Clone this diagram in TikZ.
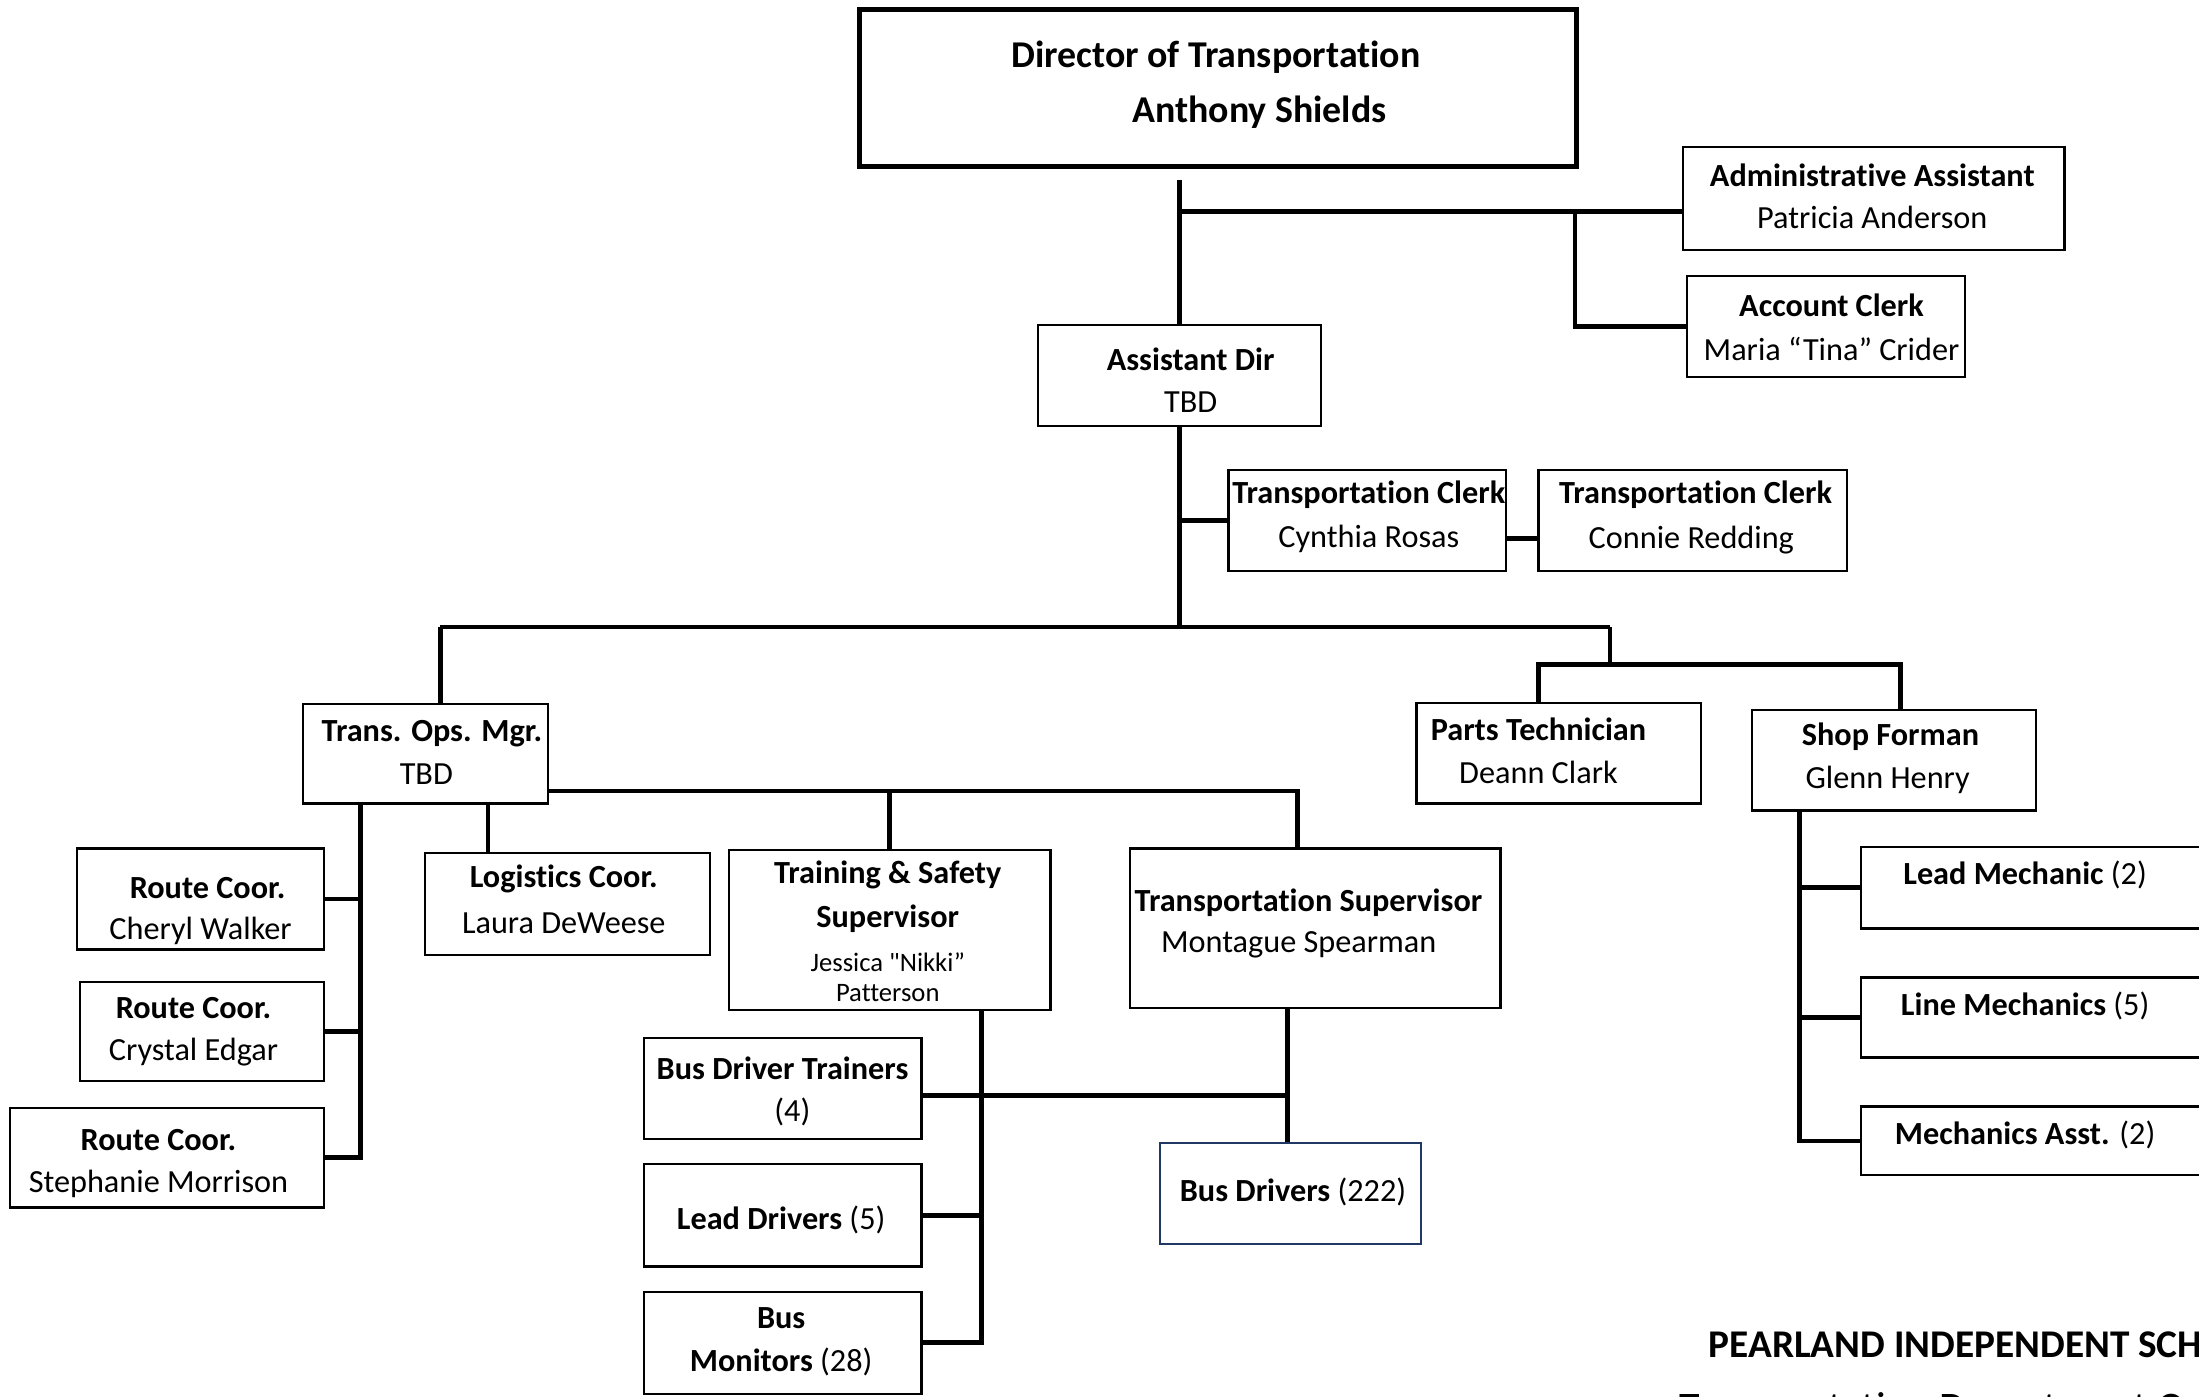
\documentclass[tikz,border=0pt]{standalone}
\usepackage{fontspec}
\setmainfont{Carlito}[Ligatures={TeXOff,NoCommon}]
\usetikzlibrary{fit}
\definecolor{navyline}{RGB}{31,56,100}
\tikzset{
 box/.style={draw, line width=0.8pt, inner sep=0pt},
 conn/.style={line width=1.7pt},
 lbl/.style={inner sep=0pt, font=\bfseries\fontsize{11.5}{14}\selectfont},
 nm/.style={inner sep=0pt, font=\fontsize{11.5}{14}\selectfont},
 sm/.style={inner sep=0pt, font=\fontsize{9.5}{11}\selectfont},
 ttl/.style={inner sep=0pt, font=\bfseries\fontsize{13.5}{16}\selectfont},
}
\newcommand\orgbox[6][]{\node[box,#1,fit={(#3,#4)(#5,#6)}] (#2) {};}
\begin{document}
\begin{tikzpicture}[x=0.5pt,y=-0.5pt]
\useasboundingbox (0,0) rectangle (1568,996);
\clip (0,0) rectangle (1568,996);
\fill[white] (0,0) rectangle (1568,996);

% boxes
\orgbox[line width=1.8pt]{dir}{613}{7}{1124}{119}
\orgbox{admin}{1200}{105}{1472}{178}
\orgbox{acct}{1203}{197}{1401}{269}
\orgbox{asst}{740}{232}{942}{304}
\orgbox{clerkA}{876}{335}{1074}{407}
\orgbox{clerkB}{1097}{335}{1317}{407}
\orgbox{ops}{216}{502}{391}{573}
\orgbox{parts}{1010}{501}{1213}{573}
\orgbox{shop}{1249}{506}{1452}{578}
\orgbox{routeA}{55}{605}{231}{677}
\orgbox{routeB}{57}{700}{231}{771}
\orgbox{routeC}{7}{790}{231}{861}
\orgbox{logis}{303}{608}{506}{681}
\orgbox{train}{520}{606}{749}{720}
\orgbox{tsup}{806}{605}{1070}{719}
\orgbox{bdt}{459}{740}{657}{812}
\orgbox{lead}{459}{830}{657}{903}
\orgbox{mon}{459}{921}{657}{994}
\orgbox[draw=navyline]{drivers}{827}{815}{1013}{887}
\orgbox{leadm}{1327}{604}{1600}{662}
\orgbox{linem}{1327}{697}{1600}{754}
\orgbox{mecha}{1327}{789}{1600}{838}

% junction coordinates
\coordinate (dtop) at (841,128);
\coordinate (jA) at (841,151);
\coordinate (jB) at (1123,151);
\coordinate (busL) at (314,447);
\coordinate (busM) at (841,447);
\coordinate (busR) at (1148,447);
\coordinate (busR2) at (1148,474);
\coordinate (pj) at (1097,474);
\coordinate (sj) at (1355,474);
\coordinate (cy) at (0,384);
\coordinate (rv) at (257,0);
\coordinate (lv) at (348,0);
\coordinate (hy) at (0,564);
\coordinate (tv) at (925,0);
\coordinate (sv) at (700,0);
\coordinate (dv) at (918,0);
\coordinate (mv) at (1283,0);
\coordinate (by) at (0,781);

% connectors
\draw[conn] (dtop) -- (asst.north);
\draw[conn] (jA) -- (jA -| admin.west);
\draw[conn] (jB) |- (acct.west);
\draw[conn] (asst.south) -- (busM);
\draw[conn] (busL) -- (busR);
\draw[conn] (asst.south |- clerkA.west) -- (clerkA.west);
\draw[conn] (clerkA.east |- cy) -- (clerkB.west |- cy);
\draw[conn] (busL) -- (busL |- ops.north);
\draw[conn] (busR) -- (busR2);
\draw[conn] (pj |- parts.north) -- (pj) -- (sj) -- (sj |- shop.north);
\draw[conn] (rv |- ops.south) |- (routeC.east);
\draw[conn] (rv |- routeA.east) -- (routeA.east);
\draw[conn] (rv |- routeB.east) -- (routeB.east);
\draw[conn] (lv |- ops.south) -- (lv |- logis.north);
\draw[conn] (ops.east |- hy) -| (tv |- tsup.north);
\draw[conn] (train.north |- hy) -- (train.north);
\draw[conn] (sv |- train.south) |- (mon.east);
\draw[conn] (sv |- lead.east) -- (lead.east);
\draw[conn] (dv |- tsup.south) -- (dv |- drivers.north);
\draw[conn] (bdt.east |- by) -- (dv |- by);
\draw[conn] (mv |- shop.south) |- (mecha.west);
\draw[conn] (mv |- leadm.west) -- (leadm.west);
\draw[conn] (mv |- linem.west) -- (linem.west);

% texts
\node[ttl] (tdir1) at (867,41) {Director of Transportation};
\node[ttl] (tdir2) at (898,80) {Anthony Shields};
\node[lbl] (tadm1) at (1335,125) {Administrative Assistant};
\node[nm] (tadm2) at (1335,155) {Patricia Anderson};
\node[lbl] (tacc1) at (1306,218) {Account Clerk};
\node[nm] (tacc2) at (1306,249) {Maria “Tina” Crider};
\node[lbl] (tas1) at (849,256) {Assistant Dir};
\node[nm] (tas2) at (849,287) {TBD};
\node[lbl] (tcA1) at (976,353) {Transportation Clerk};
\node[nm] (tcA2) at (976,384) {Cynthia Rosas};
\node[lbl] (tcB1) at (1209,353) {Transportation Clerk};
\node[nm] (tcB2) at (1206,385) {Connie Redding};
\node[lbl] (tops1) at (308,523) {Trans. Ops. Mgr.};
\node[nm] (tops2) at (304,552) {TBD};
\node[lbl] (tpar1) at (1097,520) {Parts Technician};
\node[nm] (tpar2) at (1097,551) {Deann Clark};
\node[lbl] (tsh1) at (1348,525) {Shop Forman};
\node[nm] (tsh2) at (1346,556) {Glenn Henry};
\node[lbl] (trA1) at (148,633) {Route Coor.};
\node[nm] (trA2) at (143,664) {Cheryl Walker};
\node[lbl] (trB1) at (138,719) {Route Coor.};
\node[nm] (trB2) at (138,750) {Crystal Edgar};
\node[lbl] (trC1) at (113,813) {Route Coor.};
\node[nm] (trC2) at (113,844) {Stephanie Morrison};
\node[lbl] (tlog1) at (402,627) {Logistics Coor.};
\node[nm] (tlog2) at (402,658) {Laura DeWeese};
\node[lbl] (ttr1) at (633,624) {Training \& Safety};
\node[lbl] (ttr2) at (633,655) {Supervisor};
\node[sm] (ttr3) at (633,686) {Jessica "Nikki”};
\node[sm] (ttr4) at (633,708) {Patterson};
\node[lbl] (tts1) at (933,644) {Transportation Supervisor};
\node[nm] (tts2) at (926,674) {Montague Spearman};
\node[lbl] (tbdt1) at (558,762) {Bus Driver Trainers};
\node[nm] (tbdt2) at (565,793) {(4)};
\node[lbl] (tld) at (557,870) {Lead Drivers \textmd{(5)}};
\node[lbl] (tmo1) at (557,940) {Bus};
\node[lbl] (tmo2) at (557,971) {Monitors \textmd{(28)}};
\node[lbl] (tdrv) at (922,850) {Bus Drivers \textmd{(222)}};
\node[lbl] (tlm) at (1444,624) {Lead Mechanic \textmd{(2)}};
\node[lbl] (tli) at (1444,717) {Line Mechanics \textmd{(5)}};
\node[lbl] (tma) at (1444,809) {Mechanics Asst. \textmd{(2)}};
\node[inner sep=0pt, anchor=base west, font=\bfseries\fontsize{14}{16}\selectfont] (tpisd) at (1218,968) {PEARLAND INDEPENDENT SCH};
\node[inner sep=0pt, anchor=north west, font=\fontsize{15}{18}\selectfont] (tdept) at (1197,992.5) {Transportation Department O};
\end{tikzpicture}
\end{document}
